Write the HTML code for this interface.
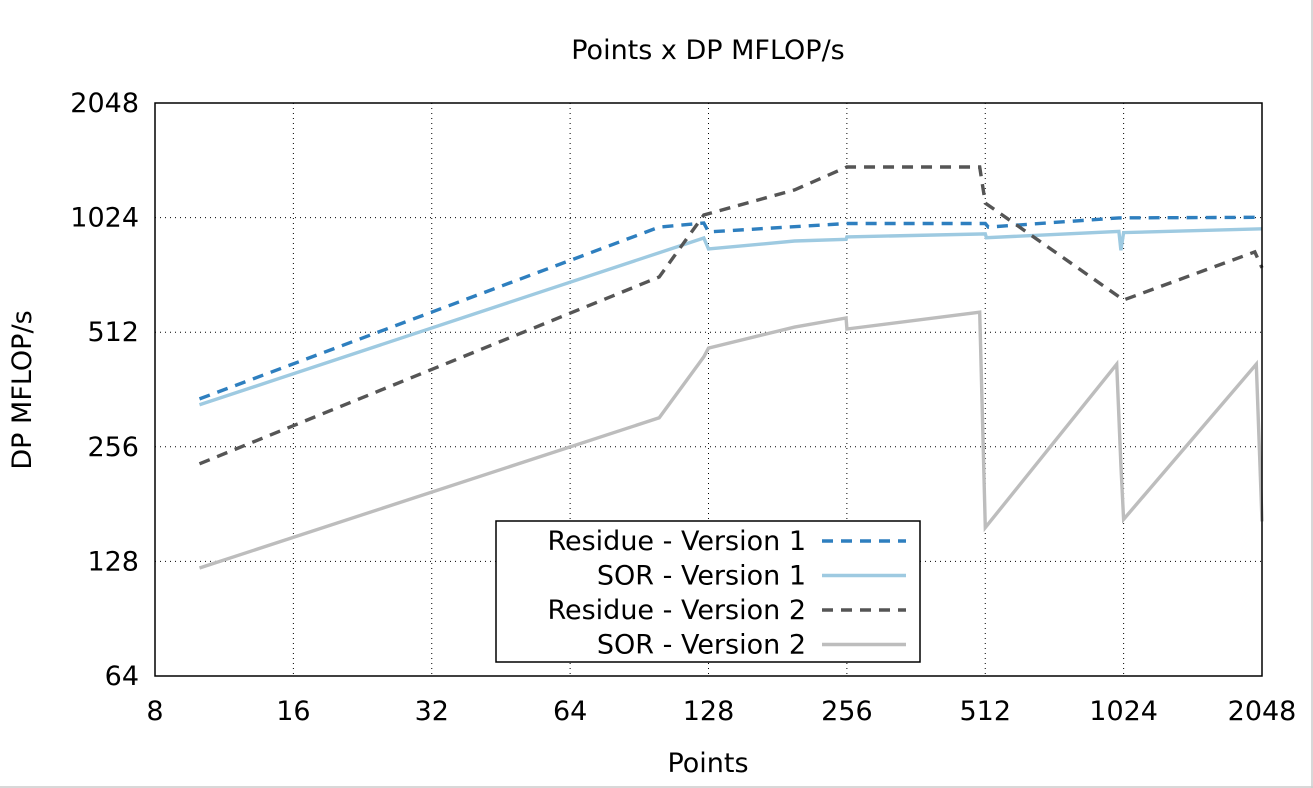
<!DOCTYPE html>
<html><head><meta charset="utf-8"><style>
html,body{margin:0;padding:0;background:#fff;}
svg{display:block;font-family:"DejaVu Sans","Liberation Sans",sans-serif;}
</style></head><body>
<svg id="chart" width="1313" height="788" viewBox="0 0 1313 788">
<rect width="1313" height="788" fill="#fff"/>
<line x1="1312" y1="0" x2="1312" y2="788" stroke="#ccc" stroke-width="1.5"/>
<line x1="0" y1="787" x2="1313" y2="787" stroke="#ccc" stroke-width="1.5"/>
<text x="708" y="59" font-size="27" text-anchor="middle">Points x DP MFLOP/s</text>
<text x="708" y="772" font-size="27" text-anchor="middle">Points</text>
<text transform="translate(31,390) rotate(-90)" font-size="27" text-anchor="middle">DP MFLOP/s</text>
<g id="grid"></g><g id="series"></g><g id="ticks"></g>
<rect x="155" y="103" width="1107" height="573" fill="none" stroke="#000" stroke-width="1.5"/>
<g id="legend"></g>
</svg>
<script>
const xTicks=[8,16,32,64,128,256,512,1024,2048];
const yTicks=[64,128,256,512,1024,2048];
const resV1X=[10,100,125,128,256,512,520,1000,2048];
const resV1Y=[342,967,991,939,988,988,967,1022,1026];
const sorV1X=[10,125,128,197,255,256,512,515,1000,1010,1024,2048];
const sorV1Y=[330,905,847,889,898,911,928,907,942,840,935,957];
const resV2X=[10,100,125,197,256,498,512,1024,1975,2048];
const resV2Y=[231,715,1040,1211,1391,1391,1118,622,832,756];
const sorV2X=[10,100,125,128,197,255,256,498,512,989,1010,1024,1990,2048];
const sorV2Y=[123,305,441,465,528,558,522,578,157,422,229,165,422,163];
const seriesNames=["Residue - Version 1","SOR - Version 1","Residue - Version 2","SOR - Version 2"];
const NS="http://www.w3.org/2000/svg";
const X0=155,X1=1262,Y0=676,Y1=103;
function xs(v){return X0+(X1-X0)*Math.log2(v/8)/8;}
function ys(v){return Y0-(Y0-Y1)*Math.log2(v/64)/5;}
function mk(tag,attrs,parent){const e=document.createElementNS(NS,tag);for(const k in attrs)e.setAttribute(k,attrs[k]);parent.appendChild(e);return e;}
const grid=document.getElementById('grid'),ticks=document.getElementById('ticks'),ser=document.getElementById('series'),leg=document.getElementById('legend');
xTicks.forEach(t=>{const x=xs(t);
 if(t!==8&&t!==2048){const g=mk('line',{x1:x,x2:x,y1:Y1,y2:Y0,stroke:'#000','stroke-width':1,'stroke-dasharray':'1,4'},grid);
 
 }
 const l=mk('text',{x:x,y:720,'font-size':27,'text-anchor':'middle'},ticks);l.textContent=t;
 
 });
yTicks.forEach(t=>{const y=ys(t);
 if(t!==64&&t!==2048){const g=mk('line',{x1:X0,x2:X1,y1:y,y2:y,stroke:'#000','stroke-width':1,'stroke-dasharray':'1,4'},grid);
 
 }
 const l=mk('text',{x:139,y:y+9,'font-size':27,'text-anchor':'end'},ticks);l.textContent=t;
 
 });
const styles=[['#2e7fbf','11,8'],['#9ecae1',''],['#555555','11,8'],['#bdbdbd','']];
const data=[[resV1X,resV1Y],[sorV1X,sorV1Y],[resV2X,resV2Y],[sorV2X,sorV2Y]];
data.forEach((d,i)=>{const pts=d[0].map((v,j)=>xs(v).toFixed(1)+','+ys(d[1][j]).toFixed(1)).join(' ');
 const p=mk('polyline',{points:pts,fill:'none',stroke:styles[i][0],'stroke-width':3.4,'stroke-dasharray':styles[i][1]},ser);
 
 });
const box=mk('rect',{x:496,y:521,width:424,height:141,fill:'#fff',stroke:'#000','stroke-width':1.5},leg);


seriesNames.forEach((n,i)=>{const y=541+i*34.5;
 const t=mk('text',{x:806,y:y+9,'font-size':27,'text-anchor':'end'},leg);t.textContent=n;
 
 
 const l=mk('line',{x1:822,x2:906,y1:y,y2:y,stroke:styles[i][0],'stroke-width':3.4,'stroke-dasharray':styles[i][1]},leg);
 
 });
</script>
</body></html>
